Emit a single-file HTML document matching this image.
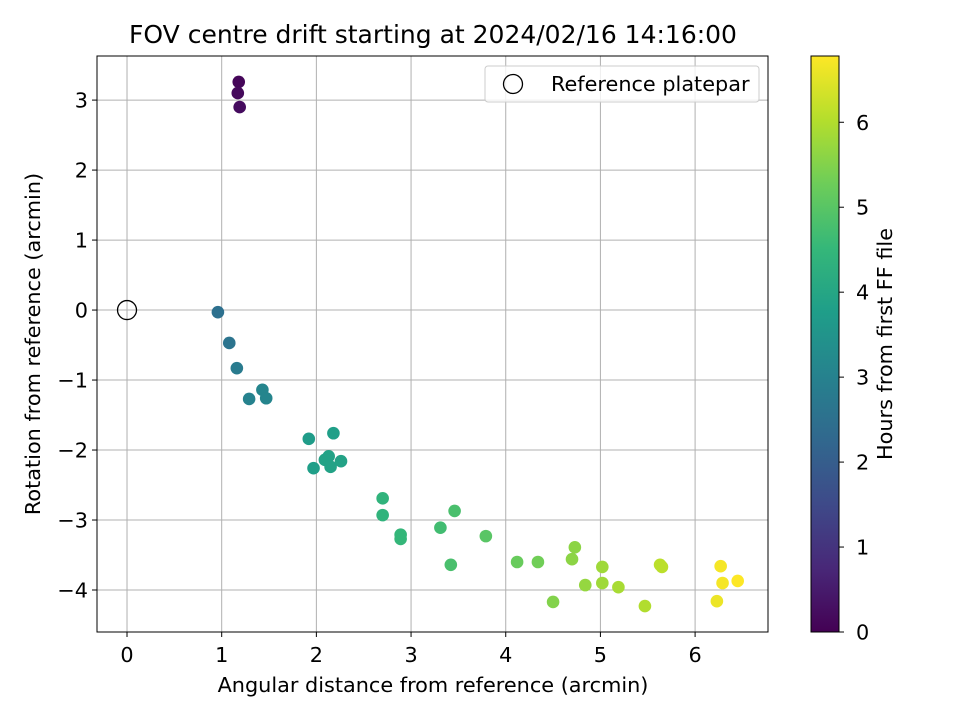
<!DOCTYPE html>
<html><head><meta charset="utf-8"><style>
body{margin:0;background:#fff}
svg text{font-family:"DejaVu Sans","Liberation Sans",sans-serif;fill:#000}
</style></head><body>
<svg id="chart" width="960" height="720" xmlns="http://www.w3.org/2000/svg">
<rect width="960" height="720" fill="#fff"/>
<text x="433" y="43" font-size="25" text-anchor="middle">FOV centre drift starting at 2024/02/16 14:16:00</text>
<g id="grid"></g>
<g id="points"></g>
<rect x="97" y="56" width="671" height="576" fill="none" stroke="#000" stroke-width="1"/>
<g id="axes"></g>
<text x="433" y="692" font-size="20.8" text-anchor="middle">Angular distance from reference (arcmin)</text>
<text transform="translate(40,344) rotate(-90)" font-size="20.8" text-anchor="middle">Rotation from reference (arcmin)</text>
<g>
<rect x="485" y="66" width="274" height="36" rx="3" fill="#fff" fill-opacity="0.8" stroke="#ccc"/>
<circle cx="513" cy="84" r="9.5" fill="none" stroke="#000" stroke-width="1.3"/>
<text x="551" y="91" font-size="20.8">Reference platepar</text>
</g>
<defs><linearGradient id="vir" x1="0" y1="1" x2="0" y2="0"></linearGradient></defs>
<rect x="811" y="56" width="28" height="576" fill="url(#vir)" stroke="#000" stroke-width="1"/>
<g id="cbaxis"></g>
<text transform="translate(892,344) rotate(-90)" font-size="20.8" text-anchor="middle">Hours from first FF file</text>
</svg>
<script>
const xVals=[1.18,1.17,1.19,0.96,1.08,1.16,1.29,1.43,1.47,1.92,2.18,1.97,2.09,2.13,2.15,2.26,2.70,2.70,2.89,2.89,3.31,3.46,3.42,3.79,4.12,4.34,4.50,4.73,4.70,4.84,5.02,5.02,5.19,5.47,5.63,5.65,6.23,6.27,6.29,6.45];
const yVals=[3.26,3.10,2.90,-0.03,-0.47,-0.83,-1.27,-1.14,-1.26,-1.84,-1.76,-2.26,-2.14,-2.09,-2.24,-2.16,-2.69,-2.93,-3.21,-3.27,-3.11,-2.87,-3.64,-3.23,-3.60,-3.60,-4.17,-3.39,-3.56,-3.93,-3.67,-3.90,-3.96,-4.23,-3.64,-3.67,-4.16,-3.66,-3.90,-3.87];
const hours=[0.1,0.15,0.2,2.5,2.6,2.8,3.0,3.1,3.1,3.7,3.8,3.8,3.9,3.9,3.9,3.9,4.4,4.4,4.5,4.5,4.7,4.8,4.8,5.0,5.2,5.3,5.5,5.6,5.6,5.7,5.8,5.8,5.9,6.0,6.1,6.1,6.6,6.7,6.7,6.8];
const xTicks=[0,1,2,3,4,5,6];
const yTicks=[3,2,1,0,-1,-2,-3,-4];
const cTicks=[0,1,2,3,4,5,6];
const NS="http://www.w3.org/2000/svg";
const X0=97,X1=768,Y0=56,Y1=632,xmin=-0.317,xmax=6.77,ymin=-4.6,ymax=3.63,hmax=6.78;
const sx=v=>X0+(v-xmin)/(xmax-xmin)*(X1-X0);
const sy=v=>Y1-(v-ymin)/(ymax-ymin)*(Y1-Y0);
const sc=v=>Y1-v/hmax*(Y1-Y0);
const vir=[[68,1,84],[72,40,120],[62,74,137],[49,104,142],[38,130,142],[31,158,137],[53,183,121],[109,205,89],[180,222,44],[253,231,37]];
function cmap(t){t=Math.max(0,Math.min(1,t));const p=t*(vir.length-1),i=Math.min(Math.floor(p),vir.length-2),f=p-i;
const c=vir[i].map((a,k)=>Math.round(a+(vir[i+1][k]-a)*f));return `rgb(${c})`;}
function el(tag,attrs,parent){const e=document.createElementNS(NS,tag);for(const k in attrs)e.setAttribute(k,attrs[k]);parent.appendChild(e);return e;}
const grid=document.getElementById('grid'),axes=document.getElementById('axes'),pts=document.getElementById('points'),cb=document.getElementById('cbaxis');
xTicks.forEach(t=>{const x=sx(t);
const g=el('line',{x1:x,x2:x,y1:Y0,y2:Y1,stroke:'#b0b0b0','stroke-width':1},grid);

el('line',{x1:x,x2:x,y1:Y1,y2:Y1+5,stroke:'#000'},axes);
const tx=el('text',{x:x,y:Y1+30,'font-size':'20.8','text-anchor':'middle'},axes);tx.textContent=t;
});
yTicks.forEach(t=>{const y=sy(t);
const g=el('line',{x1:X0,x2:X1,y1:y,y2:y,stroke:'#b0b0b0','stroke-width':1},grid);

el('line',{x1:X0-5,x2:X0,y1:y,y2:y,stroke:'#000'},axes);
const tx=el('text',{x:X0-9,y:y+7.5,'font-size':'20.8','text-anchor':'end'},axes);tx.textContent=(t<0?'−'+(-t):t);
});
const ref=el('circle',{cx:sx(0),cy:sy(0),r:9.5,fill:'none',stroke:'#000','stroke-width':1.3},pts);

xVals.forEach((xv,i)=>{const c=el('circle',{cx:sx(xv),cy:sy(yVals[i]),r:6.3,fill:cmap(hours[i]/hmax)},pts);
});
const grad=document.getElementById('vir');
vir.forEach((c,i)=>el('stop',{offset:i/(vir.length-1),'stop-color':`rgb(${c})`},grad));
cTicks.forEach(t=>{const y=sc(t);
el('line',{x1:839,x2:844,y1:y,y2:y,stroke:'#000'},cb);
const tx=el('text',{x:856,y:y+7.5,'font-size':'20.8'},cb);tx.textContent=t;
});
</script>
</body></html>
